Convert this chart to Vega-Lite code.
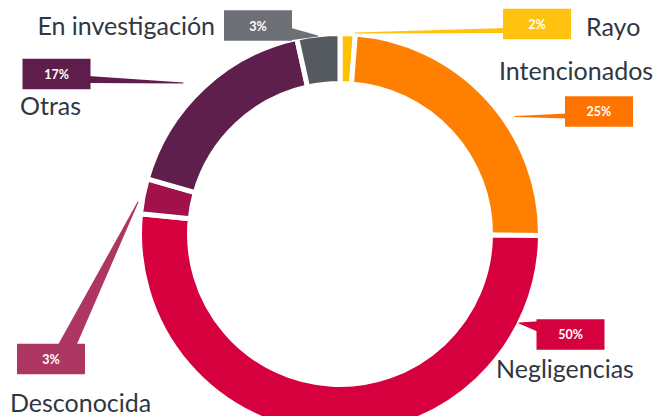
{
  "$schema": "https://vega.github.io/schema/vega-lite/v6.json",
  "width": 672,
  "height": 416,
  "padding": 0,
  "autosize": {"type": "none"},
  "background": "white",
  "config": {"view": {"stroke": null}},
  "datasets": {
    "shares": [
      {"category": "Rayo", "share": 1.22, "label": "2%", "order": 1},
      {"category": "Intencionados", "share": 23.89, "label": "25%", "order": 2},
      {"category": "Negligencias", "share": 51.5, "label": "50%", "order": 3},
      {"category": "Desconocida", "share": 2.83, "label": "3%", "order": 4},
      {"category": "Otras", "share": 17.1, "label": "17%", "order": 5},
      {"category": "En investigación", "share": 3.46, "label": "3%", "order": 6}
    ],
    "callouts": [
      {"category": "En investigación", "role": "box", "u": -41.21, "v": 104.77},
      {"category": "En investigación", "role": "base", "u": -25.63, "v": 100.5},
      {"category": "En investigación", "role": "tip", "u": -11.06, "v": 99.5},
      {"category": "En investigación", "role": "name", "u": -62.81, "v": 100.0},
      {"category": "Otras", "role": "box", "u": -142.46, "v": 80.4},
      {"category": "Otras", "role": "base", "u": -126.63, "v": 77.64},
      {"category": "Otras", "role": "tip", "u": -78.89, "v": 75.88},
      {"category": "Otras", "role": "name", "u": -160.8, "v": 59.8},
      {"category": "Rayo", "role": "box", "u": 98.99, "v": 105.53},
      {"category": "Rayo", "role": "base", "u": 83.42, "v": 102.26},
      {"category": "Rayo", "role": "tip", "u": 7.54, "v": 101.01},
      {"category": "Rayo", "role": "name", "u": 123.62, "v": 99.5},
      {"category": "Intencionados", "role": "box", "u": 130.15, "v": 61.56},
      {"category": "Intencionados", "role": "base", "u": 114.57, "v": 59.3},
      {"category": "Intencionados", "role": "tip", "u": 87.94, "v": 59.05},
      {"category": "Intencionados", "role": "name", "u": 79.9, "v": 77.39},
      {"category": "Negligencias", "role": "box", "u": 115.83, "v": -50.5},
      {"category": "Negligencias", "role": "base", "u": 101.51, "v": -46.73},
      {"category": "Negligencias", "role": "tip", "u": 89.95, "v": -44.72},
      {"category": "Negligencias", "role": "name", "u": 78.39, "v": -72.36},
      {"category": "Desconocida", "role": "box", "u": -145.23, "v": -62.81},
      {"category": "Desconocida", "role": "base", "u": -137.44, "v": -56.78},
      {"category": "Desconocida", "role": "tip", "u": -101.51, "v": 16.08},
      {"category": "Desconocida", "role": "name", "u": -165.83, "v": -89.45}
    ]
  },
  "layer": [
    {
      "data": {"name": "shares"},
      "mark": {"type": "arc", "innerRadius": 150.5, "outerRadius": 200.5, "stroke": "white", "strokeWidth": 5},
      "encoding": {
        "theta": {"field": "share", "type": "quantitative", "stack": true},
        "order": {"field": "order", "type": "quantitative"},
        "color": {
          "field": "category", "type": "nominal", "legend": null,
          "scale": {
            "domain": ["Rayo", "Intencionados", "Negligencias", "Desconocida", "Otras", "En investigación"],
            "range": ["#ffc000", "#ff8000", "#d6003f", "#a1124a", "#5f1f4c", "#555a61"]
          }
        },
        "x": {"datum": 0, "type": "quantitative", "axis": null, "scale": {"domain": [-170.854, 166.834], "nice": false, "zero": false}},
        "y": {"datum": 0, "type": "quantitative", "axis": null, "scale": {"domain": [-91.457, 117.588], "nice": false, "zero": false}}
      }
    },
    {
      "data": {"name": "callouts"},
      "transform": [{"filter": "datum.role === 'base' || datum.role === 'tip'"}],
      "mark": {"type": "trail"},
      "encoding": {
        "x": {"field": "u", "type": "quantitative", "axis": null, "scale": {"domain": [-170.854, 166.834], "nice": false, "zero": false}},
        "y": {"field": "v", "type": "quantitative", "axis": null, "scale": {"domain": [-91.457, 117.588], "nice": false, "zero": false}},
        "detail": {"field": "category", "type": "nominal"},
        "fill": {
          "field": "category", "type": "nominal", "legend": null,
          "scale": {
            "domain": ["Rayo", "Intencionados", "Negligencias", "Desconocida", "Otras", "En investigación"],
            "range": ["#ffc20e", "#ff7300", "#d5003e", "#ae3662", "#5e1d4a", "#6d7176"]
          }
        },
        "size": {
          "condition": {"test": "datum.role === 'tip'", "value": 0},
          "field": "category", "type": "nominal", "legend": null,
          "scale": {
            "type": "ordinal",
            "domain": ["Rayo", "Intencionados", "Negligencias", "Desconocida", "Otras", "En investigación"],
            "range": [5, 5, 12, 17, 7, 13]
          }
        }
      }
    },
    {
      "data": {"name": "callouts"},
      "transform": [{"filter": "datum.role === 'box'"}],
      "mark": {"type": "point", "shape": "M-1,-0.45L1,-0.45L1,0.45L-1,0.45Z", "size": 4624, "filled": true, "opacity": 1, "strokeWidth": 0},
      "encoding": {
        "x": {"field": "u", "type": "quantitative", "axis": null, "scale": {"domain": [-170.854, 166.834], "nice": false, "zero": false}},
        "y": {"field": "v", "type": "quantitative", "axis": null, "scale": {"domain": [-91.457, 117.588], "nice": false, "zero": false}},
        "fill": {
          "field": "category", "type": "nominal", "legend": null,
          "scale": {
            "domain": ["Rayo", "Intencionados", "Negligencias", "Desconocida", "Otras", "En investigación"],
            "range": ["#ffc20e", "#ff7300", "#d5003e", "#ae3662", "#5e1d4a", "#6d7176"]
          }
        }
      }
    },
    {
      "data": {"name": "callouts"},
      "transform": [
        {"filter": "datum.role === 'box'"},
        {"lookup": "category", "from": {"data": {"name": "shares"}, "key": "category", "fields": ["label"]}}
      ],
      "mark": {"type": "text", "font": "Lato", "fontWeight": "bold", "fontSize": 12.5, "color": "white", "align": "center", "baseline": "middle", "dy": 1},
      "encoding": {
        "x": {"field": "u", "type": "quantitative", "axis": null, "scale": {"domain": [-170.854, 166.834], "nice": false, "zero": false}},
        "y": {"field": "v", "type": "quantitative", "axis": null, "scale": {"domain": [-91.457, 117.588], "nice": false, "zero": false}},
        "text": {"field": "label", "type": "nominal"}
      }
    },
    {
      "data": {"name": "callouts"},
      "transform": [{"filter": "datum.role === 'name' && datum.category !== 'En investigación'"}],
      "mark": {"type": "text", "font": "Lato", "fontSize": 25, "color": "#2f3742", "align": "left", "baseline": "alphabetic"},
      "encoding": {
        "x": {"field": "u", "type": "quantitative", "axis": null, "scale": {"domain": [-170.854, 166.834], "nice": false, "zero": false}},
        "y": {"field": "v", "type": "quantitative", "axis": null, "scale": {"domain": [-91.457, 117.588], "nice": false, "zero": false}},
        "text": {"field": "category", "type": "nominal"}
      }
    },
    {
      "data": {"name": "callouts"},
      "transform": [{"filter": "datum.role === 'name' && datum.category === 'En investigación'"}],
      "mark": {"type": "text", "font": "Lato", "fontSize": 25, "color": "#2f3742", "align": "right", "baseline": "alphabetic"},
      "encoding": {
        "x": {"field": "u", "type": "quantitative", "axis": null, "scale": {"domain": [-170.854, 166.834], "nice": false, "zero": false}},
        "y": {"field": "v", "type": "quantitative", "axis": null, "scale": {"domain": [-91.457, 117.588], "nice": false, "zero": false}},
        "text": {"field": "category", "type": "nominal"}
      }
    }
  ]
}
